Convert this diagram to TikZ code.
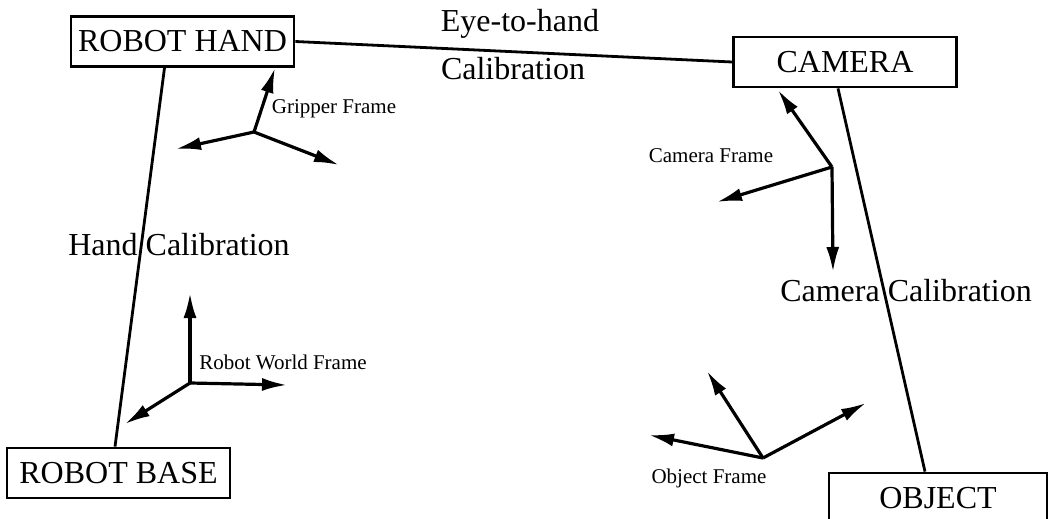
\documentclass[tikz,border=0pt]{standalone}
\usepackage{fontspec}
\setmainfont{Liberation Serif}
\usetikzlibrary{arrows.meta}

\begin{document}
\begin{tikzpicture}[x=0.5pt,y=-0.5pt,
  box/.style={draw,line width=1.4pt,minimum width=111.5pt,minimum height=25pt,inner sep=0pt,font=\fontsize{16}{16}\selectfont},
  link/.style={line width=1.4pt},
  axis/.style={line width=1.6pt,-{Latex[length=12.5pt,width=6.5pt]}},
  tag/.style={inner sep=0pt,font=\fontsize{10.5}{10.5}\selectfont},
  calib/.style={inner sep=0pt,font=\fontsize{16}{16}\selectfont}]
\useasboundingbox (0,0) rectangle (1051,519);

% the four boxes
\node[box] (hand) at (182.5,41.5) {ROBOT HAND};
\node[box] (camera) at (845,62) {CAMERA};
\node[box] (base) at (118.5,473) {ROBOT BASE};
\node[box,minimum width=109pt] (object) at (938,498) {OBJECT};

% calibration links
\draw[link] (hand.east) -- (camera.west);
\draw[link] ([xshift=-9pt]hand.south) -- ([xshift=-1.75pt]base.north);
\draw[link] ([xshift=-3.5pt]camera.south) -- ([xshift=-6.5pt]object.north);
\node[calib] (eth) at (520,24) {Eye-to-hand};
\node[calib] (ethcal) at (513,69) {Calibration};
\node[calib] (handcal) at (179,245) {Hand Calibration};
\node[calib] (camcal) at (906,291) {Camera Calibration};

% coordinate frames
\coordinate (g0) at (254,132);
\coordinate (gx) at (176,149);
\coordinate (gy) at (339,165);
\coordinate (gz) at (275,68);
\coordinate (c0) at (832,167);
\coordinate (cx) at (717,202);
\coordinate (cy) at (833,272);
\coordinate (cz) at (778,90);
\coordinate (w0) at (190,383);
\coordinate (wx) at (125,424);
\coordinate (wy) at (287,385);
\coordinate (wz) at (190,293);
\coordinate (o0) at (763,458);
\coordinate (ox) at (649,435);
\coordinate (oy) at (866,403);
\coordinate (oz) at (707,371);
\foreach \f in {g,c,w,o}
  \foreach \a in {x,y,z}
    \draw[axis] (\f0) -- (\f\a);

\node[tag] (gname) at (334,109) {Gripper Frame};
\node[tag] (cname) at (711,156) {Camera Frame};
\node[tag] (wname) at (283,362) {Robot World Frame};
\node[tag] (oname) at (709,478) {Object Frame};
\end{tikzpicture}
\end{document}
